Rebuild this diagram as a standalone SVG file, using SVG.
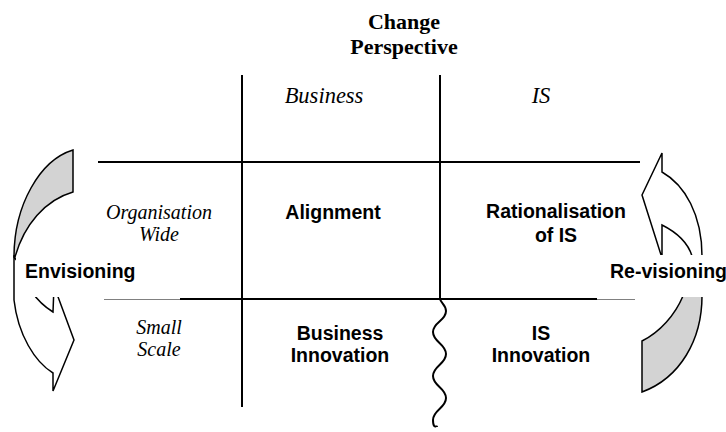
<svg xmlns="http://www.w3.org/2000/svg" width="726" height="432" viewBox="0 0 726 432">
<style>
.ln{stroke:#000;stroke-width:2;fill:none}
.thin{stroke:#808080;stroke-width:1;fill:none}
.hdr{font-family:"Liberation Serif","Times New Roman",serif;font-weight:bold;font-size:22px;text-anchor:middle;fill:#000}
.it{font-family:"Liberation Serif","Times New Roman",serif;font-style:italic;font-size:22.5px;text-anchor:middle;fill:#000}
.its{font-family:"Liberation Serif","Times New Roman",serif;font-style:italic;font-size:20px;text-anchor:middle;fill:#000}
.b{font-family:"Liberation Sans",Arial,sans-serif;font-weight:bold;font-size:19.5px;text-anchor:middle;fill:#000}
.bl{font-family:"Liberation Sans",Arial,sans-serif;font-weight:bold;font-size:19.5px;fill:#000}
.arr{stroke:#000;stroke-width:1.5;stroke-linejoin:miter}
</style>
<g id="envisioning">
<path class="arr" fill="#d3d3d3" d="M73,150 L73,192 C45,200 24,225 15,257 L14,257 C14,205 40,160 73,150 Z"/>
<path class="arr" fill="#fff" d="M14,257 L14,300 C18,335 35,362 53,373 L53,391 L74,340 L54,286 L53,312 C40,304 26,290 18,262 Z"/>
<rect x="16" y="258" width="128" height="39" fill="#fff"/>
<text class="bl" x="25" y="278">Envisioning</text>
</g>
<g id="revisioning">
<path class="arr" fill="#fff" d="M702,256 C702,215 685,185 662,172 L662,153 L642,195 L662,258 L662,225 C676,232 688,243 692,256 Z"/>
<path class="arr" fill="#d3d3d3" d="M683,296 L702,296 C702,340 680,378 642,392 L642,341 C660,332 675,315 683,296 Z"/>
<rect x="606" y="255" width="120" height="42" fill="#fff"/>
<text class="bl" x="610" y="278">Re-visioning</text>
</g>
<g id="connectors">
<line class="ln" x1="242" y1="75" x2="242" y2="407"/>
<line class="ln" x1="440" y1="75" x2="440" y2="299"/>
<line class="ln" x1="98" y1="162" x2="640" y2="162"/>
<line class="ln" x1="180" y1="299" x2="597" y2="299"/>
<line class="thin" x1="104" y1="299.5" x2="180" y2="299.5"/>
<line class="thin" x1="597" y1="299.5" x2="635" y2="299.5"/>
<path class="ln" d="M440,299 C441,303 446,305 446,311 C446,321 433,322 433,332 S446,344 446,354 S433,366 433,376 S446,388 446,398 S433,410 433,420 S437,425 437,427"/>
</g>
<g id="header">
<text class="hdr" x="404" y="29">Change</text>
<text class="hdr" x="404" y="54">Perspective</text>
</g>
<g id="col-business"><text class="it" x="324" y="103">Business</text></g>
<g id="col-is"><text class="it" x="541" y="103">IS</text></g>
<g id="row-org"><text class="its" x="159" y="219">Organisation</text><text class="its" x="159" y="241">Wide</text></g>
<g id="row-small"><text class="its" x="159" y="334">Small</text><text class="its" x="159" y="356">Scale</text></g>
<g id="alignment"><text class="b" x="333" y="219">Alignment</text></g>
<g id="rationalisation"><text class="b" x="556" y="218">Rationalisation</text><text class="b" x="556" y="242">of IS</text></g>
<g id="business-innovation"><text class="b" x="340" y="340">Business</text><text class="b" x="340" y="362">Innovation</text></g>
<g id="is-innovation"><text class="b" x="541" y="340">IS</text><text class="b" x="541" y="362">Innovation</text></g>
</svg>
